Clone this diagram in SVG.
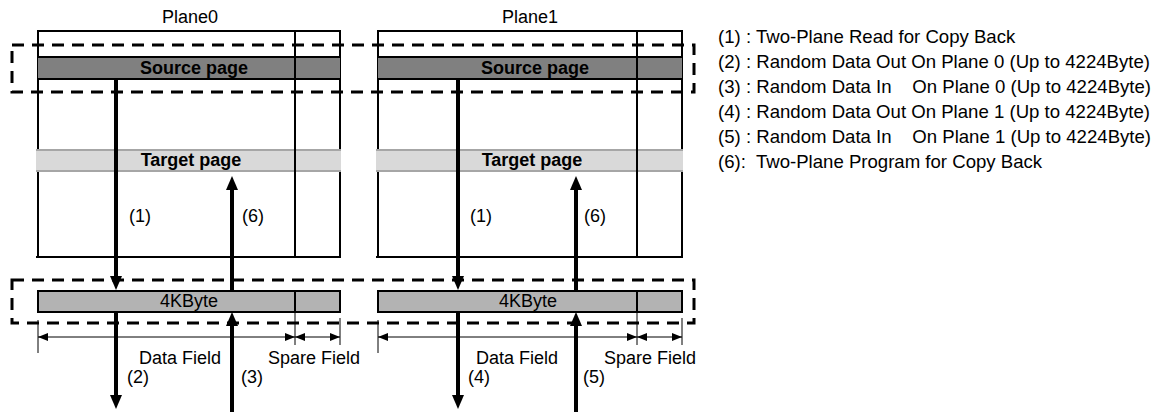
<svg xmlns="http://www.w3.org/2000/svg" width="1156" height="412" viewBox="0 0 1156 412">
<style>
text{font-family:"Liberation Sans",Arial,sans-serif;font-size:18px;fill:#000}
.b{font-weight:bold}
.c{text-anchor:middle}
.box{fill:none;stroke:#000;stroke-width:2}
.src{fill:#808080;stroke:none}
.tgt{fill:#d9d9d9;stroke:none}
.bar{fill:#b3b3b3;stroke:#000;stroke-width:2}
.ln{stroke:#000;stroke-width:2}
.gl{stroke:#a6a6a6;stroke-width:2}
.dash{fill:none;stroke:#000;stroke-width:3;stroke-dasharray:12 8}
.arr{stroke:#000;stroke-width:4;marker-end:url(#ah)}
.dim{stroke:#000;stroke-width:1;marker-start:url(#dh);marker-end:url(#dh)}
.tick{stroke:#000;stroke-width:1}
.leg{white-space:pre;font-size:18.6px}
</style>
<defs>
<marker id="ah" markerUnits="userSpaceOnUse" markerWidth="14" markerHeight="12" viewBox="0 0 14 12" refX="0" refY="6" orient="auto"><path d="M0,0 L14,6 L0,12 z" fill="#000"/></marker>
<marker id="dh" markerUnits="userSpaceOnUse" markerWidth="10" markerHeight="8" viewBox="0 0 10 8" refX="10" refY="4" orient="auto-start-reverse"><path d="M0,0 L10,4 L0,8 z" fill="#000"/></marker>
</defs>

<g id="plane0">
<text class="c" x="190" y="23">Plane0</text>
<rect class="box" x="38" y="31" width="302" height="226"/>
<rect class="src" x="38" y="57" width="302" height="22"/>
<line class="ln" x1="37" y1="57" x2="340" y2="57"/>
<line class="ln" x1="37" y1="79" x2="340" y2="79"/>
<rect class="tgt" x="36" y="150" width="305" height="21"/>
<line class="gl" x1="36" y1="150" x2="341" y2="150"/>
<line class="gl" x1="36" y1="171" x2="341" y2="171"/>
<line class="ln" x1="295" y1="31" x2="295" y2="257"/>
<line class="ln" x1="36" y1="257" x2="341" y2="257"/>
<text class="c b" x="194" y="74">Source page</text>
<text class="c b" x="191" y="166">Target page</text>
<rect class="bar" x="38" y="291" width="302" height="21"/>
<line class="ln" x1="295" y1="291" x2="295" y2="312"/>
<text class="c" x="189" y="307">4KByte</text>
<line class="tick" x1="38" y1="320" x2="38" y2="353"/>
<line class="tick" x1="295" y1="312" x2="295" y2="345"/>
<line class="tick" x1="340" y1="318" x2="340" y2="345"/>
<line class="dim" x1="38" y1="337" x2="295" y2="337"/>
<line class="dim" x1="295" y1="337" x2="340" y2="337"/>
<text x="139" y="364">Data Field</text>
<text x="268" y="364">Spare Field</text>
<text x="129" y="222">(1)</text>
<text x="242" y="222">(6)</text>
<text x="127" y="383">(2)</text>
<text x="241" y="383">(3)</text>
</g>

<g id="plane1">
<text class="c" x="530" y="23">Plane1</text>
<rect class="box" x="378" y="31" width="304" height="226"/>
<rect class="src" x="378" y="57" width="304" height="22"/>
<line class="ln" x1="377" y1="57" x2="682" y2="57"/>
<line class="ln" x1="377" y1="79" x2="682" y2="79"/>
<rect class="tgt" x="376" y="150" width="307" height="21"/>
<line class="gl" x1="376" y1="150" x2="683" y2="150"/>
<line class="gl" x1="376" y1="171" x2="683" y2="171"/>
<line class="ln" x1="637" y1="31" x2="637" y2="257"/>
<line class="ln" x1="376" y1="257" x2="683" y2="257"/>
<text class="c b" x="535" y="74">Source page</text>
<text class="c b" x="532" y="166">Target page</text>
<rect class="bar" x="378" y="291" width="304" height="21"/>
<line class="ln" x1="637" y1="291" x2="637" y2="312"/>
<text class="c" x="528" y="307">4KByte</text>
<line class="tick" x1="378" y1="320" x2="378" y2="353"/>
<line class="tick" x1="637" y1="312" x2="637" y2="345"/>
<line class="tick" x1="682" y1="318" x2="682" y2="345"/>
<line class="dim" x1="378" y1="337" x2="637" y2="337"/>
<line class="dim" x1="637" y1="337" x2="682" y2="337"/>
<text x="476" y="364">Data Field</text>
<text x="604" y="364">Spare Field</text>
<text x="470" y="222">(1)</text>
<text x="584" y="222">(6)</text>
<text x="468" y="383">(4)</text>
<text x="583" y="383">(5)</text>
</g>

<g id="groups">
<rect class="dash" x="12" y="45" width="682" height="47"/>
<rect class="dash" x="12" y="280" width="682" height="43"/>
</g>

<g id="connectors">
<line class="arr" x1="116" y1="80" x2="116" y2="276"/>
<line class="arr" x1="232" y1="291" x2="232" y2="190"/>
<line class="arr" x1="116" y1="312" x2="116" y2="395"/>
<line class="arr" x1="232" y1="412" x2="232" y2="326"/>
<line class="arr" x1="458" y1="80" x2="458" y2="276"/>
<line class="arr" x1="576" y1="291" x2="576" y2="190"/>
<line class="arr" x1="458" y1="312" x2="458" y2="395"/>
<line class="arr" x1="576" y1="412" x2="576" y2="326"/>
</g>

<g id="legend">
<text class="leg" x="718" y="43">(1) : Two-Plane Read for Copy Back</text>
<text class="leg" x="718" y="68">(2) : Random Data Out On Plane 0 (Up to 4224Byte)</text>
<text class="leg" x="718" y="93">(3) : Random Data In    On Plane 0 (Up to 4224Byte)</text>
<text class="leg" x="718" y="118">(4) : Random Data Out On Plane 1 (Up to 4224Byte)</text>
<text class="leg" x="718" y="143">(5) : Random Data In    On Plane 1 (Up to 4224Byte)</text>
<text class="leg" x="718" y="168">(6):  Two-Plane Program for Copy Back</text>
</g>
</svg>
